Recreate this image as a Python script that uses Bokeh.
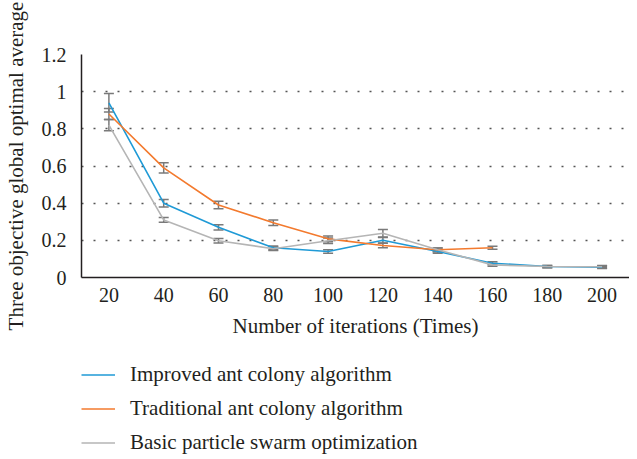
from bokeh.plotting import figure
from bokeh.layouts import column
from bokeh.models import ColumnDataSource, Whisker, TeeHead, FixedTicker, Legend, LegendItem
from bokeh.embed import file_html
from bokeh.resources import INLINE
import math

iterations = ["20", "40", "60", "80", "100", "120", "140", "160", "180", "200"]
improved = [0.94, 0.40, 0.27, 0.16, 0.14, 0.20, 0.14, 0.077, 0.059, 0.055]
improved_err = [0.05, 0.02, 0.014, 0.01, 0.01, 0.015, 0.01, 0.008, 0.006, 0.006]
traditional = [0.88, 0.59, 0.39, 0.295, 0.208, 0.172, 0.149, 0.16, float("nan"), float("nan")]
traditional_err = [0.03, 0.027, 0.02, 0.015, 0.015, 0.012, 0.01, 0.008, float("nan"), float("nan")]
basic = [0.82, 0.31, 0.198, 0.155, 0.198, 0.238, 0.149, 0.068, 0.059, 0.058]
basic_err = [0.03, 0.013, 0.012, 0.01, 0.015, 0.02, 0.01, 0.008, 0.006, 0.006]
y_ticks = [0, 0.2, 0.4, 0.6, 0.8, 1.0, 1.2]
y_tick_labels = ["0", "0.2", "0.4", "0.6", "0.8", "1", "1.2"]
series_names = ["Improved ant colony algorithm", "Traditional ant colony algorithm",
                "Basic particle swarm optimization"]
colors = ["#1F9AD6", "#F37A2E", "#B5B5B5"]

FONT = "Liberation Serif"
TXT = "#231F20"

p = figure(x_range=iterations, y_range=(0, 1.2), frame_width=548, frame_height=223,
           min_border_left=73, min_border_top=54, min_border_right=0, min_border_bottom=72,
           output_backend="svg", toolbar_location=None, background_fill_color="white")
p.outline_line_color = None

p.xgrid.grid_line_color = None
p.ygrid.grid_line_color = "#555555"
p.ygrid.grid_line_dash = "2 10"
p.ygrid.grid_line_width = 1.5

p.yaxis.ticker = FixedTicker(ticks=y_ticks)
p.yaxis.major_label_overrides = {t: l for t, l in zip(y_ticks, y_tick_labels)}
for ax in (p.xaxis[0], p.yaxis[0]):
    ax.axis_line_color = "#231F20"
    ax.axis_line_width = 1.5
    ax.major_tick_line_color = None
    ax.minor_tick_line_color = None
    ax.major_label_text_font = FONT
    ax.major_label_text_font_size = "20px"
    ax.major_label_text_color = TXT
    ax.axis_label_text_font = FONT
    ax.axis_label_text_font_size = "21px"
    ax.axis_label_text_font_style = "normal"
    ax.axis_label_text_color = TXT
p.xaxis.axis_label = "Number of iterations (Times)"
p.yaxis.axis_label = "Three objective global optimal average"
p.xaxis.major_label_standoff = 4
p.xaxis.axis_label_standoff = 9
p.yaxis.major_label_standoff = 9
p.yaxis.axis_label_standoff = 11

# legend-only figure below the chart (its sample lines lie outside its visible range)
q = figure(width=621, height=110, x_range=(0, 1), y_range=(0, 1),
           x_axis_location=None, y_axis_location=None,
           min_border_left=0, min_border_right=0, min_border_top=0, min_border_bottom=0,
           output_backend="svg", toolbar_location=None)
q.grid.visible = False
q.outline_line_color = None

items = []
for name, vals, errs, col in zip(series_names, [improved, traditional, basic],
                                 [improved_err, traditional_err, basic_err], colors):
    xs = [x for x, v in zip(iterations, vals) if not math.isnan(v)]
    ys = [v for v in vals if not math.isnan(v)]
    es = [e for v, e in zip(vals, errs) if not math.isnan(v)]
    src = ColumnDataSource(dict(x=xs, y=ys, lo=[a - b for a, b in zip(ys, es)],
                                hi=[a + b for a, b in zip(ys, es)]))
    p.line("x", "y", source=src, line_color=col, line_width=1.6)
    w = Whisker(source=src, base="x", lower="lo", upper="hi", line_color="#7A7A7A",
                line_width=1.5,
                upper_head=TeeHead(size=10, line_color="#7A7A7A", line_width=1.5),
                lower_head=TeeHead(size=10, line_color="#7A7A7A", line_width=1.5))
    p.add_layout(w)
    r = q.line(x=[5, 6], y=[5, 5], line_color=col, line_width=1.6)
    items.append(LegendItem(label=name, renderers=[r]))

legend = Legend(items=items, location=(0, 4), orientation="vertical",
                padding=0, margin=0, spacing=9, glyph_width=34, glyph_height=25,
                label_height=25, label_standoff=15, label_text_font=FONT,
                label_text_font_size="21px", label_text_color=TXT,
                border_line_color=None, background_fill_alpha=0)
q.add_layout(legend, "center")

layout = column(p, q, spacing=0)
open("out.html", "w").write(file_html(layout, INLINE))
